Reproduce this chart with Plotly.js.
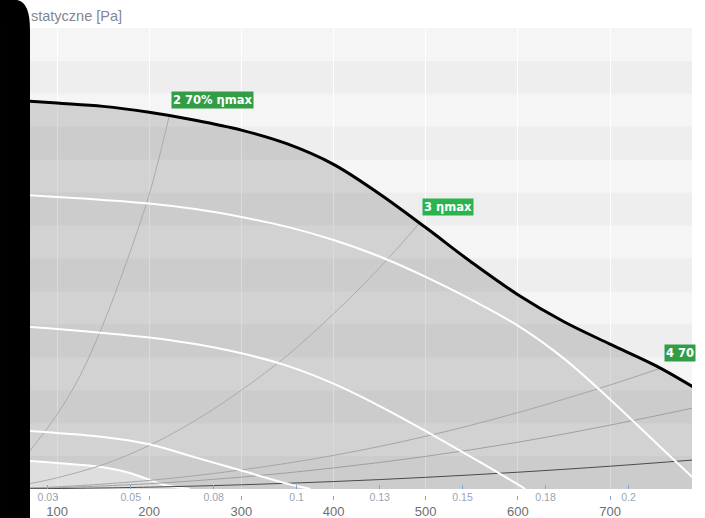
<!DOCTYPE html>
<html>
<head>
<meta charset="utf-8">
<script src="https://cdn.plot.ly/plotly-3.0.1.min.js"></script>
<style>html,body{margin:0;padding:0;background:#fff;}#chart{width:705px;height:518px;}</style>
</head>
<body>
<div id="chart"></div>
<script>
// ---- data ----
// main fan curve (max speed), flow m3/h -> static pressure Pa
const flowMax  = [70,100,150,200,250,300,350,400,450,500,550,600,650,700,750,790];
const pressMax = [589,586,581,572,560,545,524,493,448,397,344,295,254,220,187,155];

// lower speed curves (white)
const flowW1  = [70,100,150,200,250,300,350,400,450,500,550,600,650,700,750,790];
const pressW1 = [446,443.5,439,433.5,425,413,398,378,353,322,287,248,198,136,70,17];
const flowW2  = [70,100,150,200,250,300,350,400,450,500,550,600,608];
const pressW2 = [246,243,237,230,220,206,187,160,126,88,48,7,0];
const flowW3  = [70,100,150,200,250,300,350,375];
const pressW3 = [88,85,79,68,48,28,8,0];
const flowW4  = [70,100,150,180,217,244];
const pressW4 = [42.5,39.5,33,24,6,0];

// system curves
const flowS1  = [70,100,125,150,175,200,222];
const pressS1 = [57,113,172,250,343,447,568];
const flowS2  = [70,100,150,200,250,300,350,400,450,494];
const pressS2 = [8,17,37,66,104,150,203,266,336,405];
const flowS3  = [70,100,200,300,400,500,600,700,756];
const pressS3 = [1.6,3.2,13,29,51,80,116,158,184];
const flowS4  = [70,100,200,300,400,500,600,700,790];
const pressS4 = [1,2,8,18,32,49.5,71,97,123];
const flowS5  = [70,100,200,300,400,500,600,700,790];
const pressS5 = [0.3,0.7,2.8,6.4,11.3,17.7,25.5,34.6,44];

// operating points and their labels
const opFlow   = [222, 494, 756];
const opPress  = [568, 405, 183];
const opLabels = ['2 70% ηmax', '3 ηmax', '4 70'];
const opColors = ['#319e47', '#2bb34d', '#319e47'];

// axes
const flowRange   = [70.7, 788.9];
const pressRange  = [0, 700];
const pressBands  = [0,50,100,150,200,250,300,350,400,450,500,550,600,650,700];
const m3sTicks    = [0.025,0.05,0.075,0.1,0.125,0.15,0.175,0.2];
const m3sLabels   = ['0.03','0.05','0.08','0.1','0.13','0.15','0.18','0.2'];
const yTitle      = 'statyczne [Pa]';

// ---- build ----
const FONT = 'Liberation Sans, Arial, sans-serif';
const sys = (x,y,c) => ({x:x, y:y, mode:'lines', line:{color:c, width:1, shape:'spline'}, hoverinfo:'skip'});
const white = (x,y,extra) => Object.assign({x:x, y:y, mode:'lines', line:{color:'#ffffff', width:2, shape:'spline'}, hoverinfo:'skip'}, extra||{});

const traces = [
  {x:flowMax, y:pressMax, mode:'lines', fill:'tozeroy', fillcolor:'rgba(0,0,0,0.14)', line:{width:0, shape:'spline'}, hoverinfo:'skip'},
  white(flowW4, pressW4, {fill:'tozeroy', fillcolor:'rgba(255,255,255,0.35)'}),
  sys(flowS1, pressS1, '#ababab'),
  sys(flowS2, pressS2, '#ababab'),
  sys(flowS3, pressS3, '#a6a6a6'),
  sys(flowS4, pressS4, '#a0a0a0'),
  sys(flowS5, pressS5, '#4a4a4a'),
  white(flowW1, pressW1),
  white(flowW2, pressW2),
  white(flowW3, pressW3),
  {x:flowMax, y:pressMax, mode:'lines', line:{color:'#000000', width:3, shape:'spline'}, hoverinfo:'skip'},
  {x:[flowRange[0]/3600, flowRange[1]/3600], y:[0,0], mode:'none', xaxis:'x2', yaxis:'y', hoverinfo:'skip'}
];

const shapes = [];
for (let i = 0; i < pressBands.length - 1; i++) {
  if (i % 2 === 0) {
    shapes.push({type:'rect', xref:'paper', yref:'y', x0:0, x1:1, y0:pressBands[i], y1:pressBands[i+1],
      fillcolor:'#eeeeee', line:{width:0}, layer:'below'});
  }
}
// black frame edge at the left
shapes.push({type:'path', xref:'paper', yref:'paper',
  path:'M -0.0453 1.06 L -0.0196 1.06 Q 0 1.0557 0 0.9957 L 0 -0.0493 L -0.0453 -0.0493 Z',
  fillcolor:'#000000', line:{width:0}, layer:'above'});

const annotations = opFlow.map((f,i) => ({
  x:f, y:opPress[i], xref:'x', yref:'y', xanchor:'left', yanchor:'bottom',
  xshift:2, yshift:6, showarrow:false, text:'<b>'+opLabels[i]+'</b>',
  bgcolor:opColors[i], borderpad:1, font:{family:'DejaVu Sans, sans-serif', size:11.5, color:'#ffffff'}
}));
annotations.push({xref:'paper', yref:'paper', x:-1/662, y:(495-16)/467, xanchor:'left', yanchor:'middle',
  showarrow:false, text:yTitle, font:{family:FONT, size:14.5, color:'#7f8793'}});

const layout = {
  width:705, height:518,
  margin:{l:30, r:13, t:28, b:23},
  paper_bgcolor:'#ffffff', plot_bgcolor:'#f5f5f5',
  showlegend:false,
  font:{family:FONT},
  xaxis:{range:flowRange, anchor:'free', position:0, tick0:0, dtick:100,
    ticks:'outside', ticklen:4, tickcolor:'#7fa8d6', tickwidth:1,
    showgrid:true, gridcolor:'#ffffff', gridwidth:1, zeroline:false, showline:false,
    tickfont:{family:FONT, size:13, color:'#6e6e6e'}},
  xaxis2:{range:[flowRange[0]/3600, flowRange[1]/3600], overlaying:'x', anchor:'y', side:'bottom',
    tickmode:'array', tickvals:m3sTicks, ticktext:m3sLabels,
    ticks:'inside', ticklen:4, tickcolor:'#7fa8d6', tickwidth:1,
    showgrid:false, zeroline:false, showline:false,
    tickfont:{family:FONT, size:10.5, color:'#98a4b4'}},
  yaxis:{range:pressRange, domain:[6/467, 1], showgrid:false, zeroline:false,
    showticklabels:false, ticks:'', showline:false},
  shapes:shapes,
  annotations:annotations
};

Plotly.newPlot('chart', traces, layout, {displayModeBar:false, staticPlot:true});
</script>
</body>
</html>
